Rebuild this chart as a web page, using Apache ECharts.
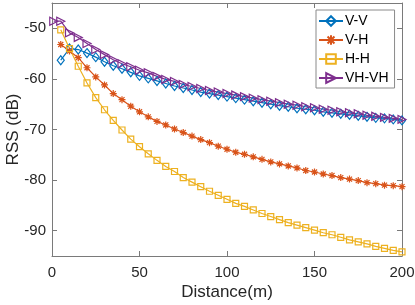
<!DOCTYPE html>
<html>
<head>
<meta charset="utf-8">
<script src="https://cdn.jsdelivr.net/npm/echarts@6/dist/echarts.min.js"></script>
<style>
html,body{margin:0;padding:0;background:#fff;}
#c{width:415px;height:305px;}
</style>
</head>
<body>
<div id="c"></div>
<script>
// Distances (m)
const distances = [5,10,15,20,25,30,35,40,45,50,55,60,65,70,75,80,85,90,95,100,
  105,110,115,120,125,130,135,140,145,150,155,160,165,170,175,180,185,190,195,200];
const distancesVHVH = [1,5,10,15,20,25,30,35,40,45,50,55,60,65,70,75,80,85,90,95,100,
  105,110,115,120,125,130,135,140,145,150,155,160,165,170,175,180,185,190,195,200];

// RSS (dB)
const rssVV = [-56.3,-54.0,-54.2,-54.9,-55.7,-56.6,-57.4,-58.0,-58.7,-59.4,-59.9,-60.4,-60.9,-61.4,-61.8,-62.2,-62.6,-62.9,-63.2,-63.5,
  -63.8,-64.1,-64.4,-64.7,-65.0,-65.3,-65.5,-65.8,-66.0,-66.2,-66.5,-66.7,-66.9,-67.1,-67.3,-67.5,-67.7,-67.8,-68.0,-68.2];
const rssVH = [-53.2,-54.5,-55.8,-57.8,-59.6,-61.2,-62.9,-64.1,-65.4,-66.5,-67.5,-68.4,-69.1,-69.9,-70.6,-71.3,-72.0,-72.6,-73.3,-73.9,
  -74.5,-74.9,-75.4,-75.9,-76.4,-76.8,-77.2,-77.6,-78.1,-78.4,-78.8,-79.1,-79.5,-79.8,-80.1,-80.5,-80.7,-81.0,-81.1,-81.3];
const rssHH = [-50.3,-54.0,-57.5,-60.8,-63.7,-66.1,-68.2,-70.1,-71.9,-73.4,-74.8,-76.1,-77.3,-78.3,-79.5,-80.4,-81.3,-82.2,-83.0,-83.8,
  -84.6,-85.2,-85.9,-86.6,-87.2,-87.8,-88.4,-88.9,-89.4,-89.9,-90.4,-90.8,-91.3,-91.8,-92.2,-92.6,-93.1,-93.5,-93.9,-94.2];
const rssVHVH = [-48.6,-48.6,-50.9,-51.8,-53.0,-54.2,-55.2,-56.2,-57.0,-57.6,-58.3,-58.8,-59.5,-60.1,-60.5,-61.1,-61.5,-61.9,-62.3,-62.6,-62.9,
  -63.2,-63.5,-63.8,-64.1,-64.4,-64.7,-65.0,-65.2,-65.5,-65.7,-66.0,-66.2,-66.5,-66.7,-66.9,-67.2,-67.4,-67.6,-67.8,-68.0];

const seriesNames = ['V-V','V-H','H-H','VH-VH'];
const xTicks = [0,50,100,150,200];
const yTicks = [-90,-80,-70,-60,-50];

const pair = (xs, ys) => xs.map((x, i) => [x, ys[i]]);

const colors = ['#0072BD','#D95319','#EDB120','#7E2F8E'];
const axisColor = '#7a7a7a';
const textColor = '#262626';
const FONT = 'Liberation Sans, Arial, Helvetica, sans-serif';
const asterisk = 'path://M0,-5L0,5M-5,0L5,0M-3.6,-3.6L3.6,3.6M-3.6,3.6L3.6,-3.6';

function mk(name, data, color, symbol, size, rot) {
  return {
    name: name,
    type: 'line',
    data: data,
    xAxisIndex: 0,
    yAxisIndex: 0,
    symbol: symbol,
    symbolSize: size,
    symbolRotate: rot || 0,
    showAllSymbol: true,
    lineStyle: {color: color, width: 1.2},
    itemStyle: {color: 'rgba(255,255,255,0)', borderColor: color, borderWidth: 1.2},
    emphasis: {disabled: true},
    animation: false
  };
}

const chart = echarts.init(document.getElementById('c'), null, {renderer: 'canvas'});
chart.setOption({
  animation: false,
  textStyle: {fontFamily: FONT},
  grid: {left: 52, right: 13, top: 3, bottom: 49, containLabel: false, outerBoundsMode: 'none'},
  legend: {
    data: seriesNames,
    orient: 'vertical',
    left: 316, top: 10,
    padding: [4, 6, 3, 2],
    itemWidth: 24, itemHeight: 12, itemGap: 5,
    borderColor: '#8a8a8a', borderWidth: 1,
    backgroundColor: '#fff',
    textStyle: {fontSize: 14, color: '#000', fontFamily: FONT, padding: [0,0,0,-3]}
  },
  xAxis: [{
    type: 'value', min: 0, max: 200, interval: 50,
    name: 'Distance(m)', nameLocation: 'middle', nameGap: 28, nameMoveOverlap: false,
    nameTextStyle: {fontSize: 17, color: textColor, fontFamily: FONT},
    axisLine: {show: true, onZero: false, lineStyle: {color: axisColor, width: 1}},
    axisTick: {show: true, inside: true, length: 5, lineStyle: {color: axisColor}},
    axisLabel: {fontSize: 15, color: textColor, margin: 9, fontFamily: FONT,
      formatter: v => xTicks.includes(v) ? String(v) : ''},
    splitLine: {show: false}
  }, {
    type: 'value', min: 0, max: 200, interval: 50, position: 'top',
    axisLine: {show: true, onZero: false, lineStyle: {color: axisColor, width: 1}},
    axisTick: {show: true, inside: true, length: 5, lineStyle: {color: axisColor}},
    axisLabel: {show: false}, splitLine: {show: false}
  }],
  yAxis: [{
    type: 'value', min: -95, max: -45,
    name: 'RSS (dB)', nameLocation: 'middle', nameGap: 30, nameRotate: 90, nameMoveOverlap: false,
    nameTextStyle: {fontSize: 17, color: textColor, fontFamily: FONT},
    axisLine: {show: true, onZero: false, lineStyle: {color: axisColor, width: 1}},
    axisTick: {show: true, inside: true, length: 5, lineStyle: {color: axisColor},
      customValues: yTicks},
    axisLabel: {fontSize: 15, color: textColor, margin: 6, fontFamily: FONT,
      customValues: yTicks,
      formatter: v => yTicks.includes(v) ? String(v) : ''},
    splitLine: {show: false}
  }, {
    type: 'value', min: -95, max: -45, position: 'right',
    axisLine: {show: true, onZero: false, lineStyle: {color: axisColor, width: 1}},
    axisTick: {show: true, inside: true, length: 5, lineStyle: {color: axisColor},
      customValues: yTicks},
    axisLabel: {show: false}, splitLine: {show: false}
  }],
  series: [
    mk('V-V', pair(distances, rssVV), colors[0], 'diamond', [7, 9]),
    mk('V-H', pair(distances, rssVH), colors[1], asterisk, 7),
    mk('H-H', pair(distances, rssHH), colors[2], 'rect', 6),
    mk('VH-VH', pair(distancesVHVH, rssVHVH), colors[3], 'triangle', 8, -90)
  ]
});
</script>
</body>
</html>
